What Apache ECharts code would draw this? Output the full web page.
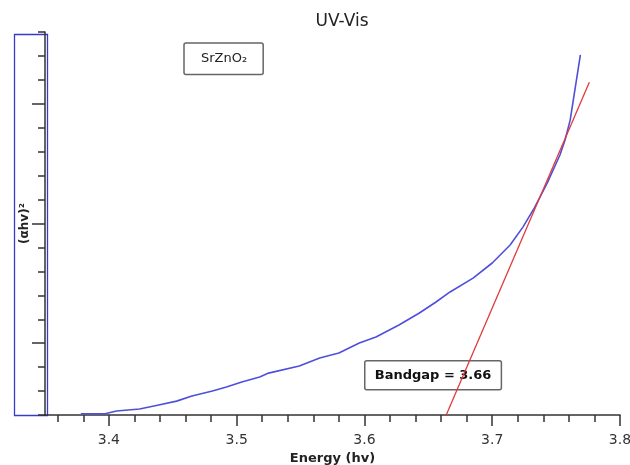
<!DOCTYPE html>
<html>
<head>
<meta charset="utf-8">
<script src="https://cdn.jsdelivr.net/npm/echarts@6/dist/echarts.min.js"></script>
<style>html,body{margin:0;padding:0;background:#fff}#c{width:630px;height:465px}</style>
</head>
<body>
<div id="c"></div>
<script>
// Data
const energy = [3.378, 3.397, 3.406, 3.424, 3.439, 3.453, 3.465, 3.481, 3.492, 3.504, 3.518, 3.525, 3.549, 3.565, 3.580, 3.596, 3.609, 3.627, 3.643, 3.656, 3.667, 3.685, 3.700, 3.714, 3.724, 3.733, 3.743, 3.753, 3.757, 3.761, 3.769];
const absorb = [0.05, 0.05, 0.17, 0.25, 0.42, 0.58, 0.79, 1.00, 1.17, 1.38, 1.59, 1.75, 2.05, 2.38, 2.59, 3.01, 3.26, 3.76, 4.26, 4.72, 5.14, 5.72, 6.35, 7.10, 7.85, 8.65, 9.69, 10.86, 11.49, 12.32, 15.04];
const fitEnergy = [3.664, 3.776];
const fitValue = [0, 13.9];
const bandgap = 3.66;
const xMajorTicks = [3.4, 3.5, 3.6, 3.7, 3.8];
const xMinorTicks = [3.36, 3.38, 3.42, 3.44, 3.46, 3.48, 3.52, 3.54, 3.56, 3.58, 3.62, 3.64, 3.66, 3.68, 3.72, 3.74, 3.76, 3.78];
const yMajorTicks = [3, 8, 13];
const seriesName = 'SrZnO\u2082';

const FONT = 'DejaVu Sans';
const chart = echarts.init(document.getElementById('c'), null, {renderer: 'canvas'});
const grid = {left: 45, right: 10, top: 32, bottom: 50, outerBoundsMode: 'none', containLabel: false};
const baseX = {type: 'value', min: 3.35, max: 3.8, gridIndex: 0, position: 'bottom', offset: 0, splitLine: {show: false}};
const baseY = {type: 'value', min: 0, max: 16, interval: 1, gridIndex: 0, position: 'left', offset: 0, splitLine: {show: false}, axisLabel: {show: false}};
chart.setOption({
  animation: false,
  backgroundColor: '#fff',
  title: {text: 'UV-Vis', left: 337, top: 8, textAlign: 'center',
    textStyle: {fontFamily: FONT, fontSize: 17, fontWeight: 'normal', color: '#222'}},
  legend: {data: [seriesName], left: 184, top: 43, icon: 'none', itemWidth: 0, itemGap: 0,
    borderColor: '#666', borderWidth: 1.5, borderRadius: 2, padding: [9, 16, 9, 12],
    textStyle: {fontFamily: FONT, fontSize: 13, color: '#222'}},
  grid: grid,
  xAxis: [
    Object.assign({}, baseX, {
      name: 'Energy (hv)', nameLocation: 'middle', nameGap: 37,
      nameTextStyle: {fontFamily: FONT, fontSize: 13, fontWeight: 'bold', color: '#222'},
      axisLine: {show: true, lineStyle: {color: '#333', width: 1.5}},
      axisTick: {show: true, length: 11, customValues: xMajorTicks, lineStyle: {color: '#333', width: 1.5}},
      axisLabel: {customValues: xMajorTicks, margin: 18, fontFamily: FONT, fontSize: 14, color: '#333',
        formatter: v => v.toFixed(1)}
    }),
    Object.assign({}, baseX, {
      axisLine: {show: false},
      axisTick: {show: true, length: 7, customValues: xMinorTicks, lineStyle: {color: '#333', width: 1.5}},
      axisLabel: {show: false}
    })
  ],
  yAxis: [
    Object.assign({}, baseY, {
      name: '(\u03b1hv)\u00b2', nameLocation: 'middle', nameGap: 14,
      nameTextStyle: {fontFamily: FONT, fontSize: 12, fontWeight: 'bold', color: '#222'},
      axisLine: {show: true, lineStyle: {color: '#333', width: 1.5}},
      axisTick: {show: true, length: 7, lineStyle: {color: '#333', width: 1.5}}
    }),
    Object.assign({}, baseY, {
      axisLine: {show: false},
      axisTick: {show: true, length: 13, customValues: yMajorTicks, lineStyle: {color: '#333', width: 1.5}}
    })
  ],
  graphic: [
    {type: 'rect', left: 12, top: 32, z: 0, silent: true,
      shape: {width: 33, height: 381}, style: {fill: 'none', stroke: '#3a3ac8', lineWidth: 1.3}},
    {type: 'text', left: 364, top: 360, z: 0, silent: true,
      style: {text: 'Bandgap = ' + bandgap.toFixed(2), font: 'bold 13px "DejaVu Sans"', fill: '#111',
        padding: [8, 10, 8, 10], borderColor: '#666', borderWidth: 1.5, borderRadius: 2}}
  ],
  series: [
    {name: seriesName, type: 'line', xAxisIndex: 0, yAxisIndex: 0, showSymbol: false, symbol: 'none',
      data: energy.map((e, i) => [e, absorb[i]]),
      lineStyle: {color: '#4f4fdc', width: 1.6}, itemStyle: {color: '#4f4fdc'}, z: 3},
    {name: 'fit', type: 'line', xAxisIndex: 0, yAxisIndex: 0, showSymbol: false, symbol: 'none',
      data: fitEnergy.map((e, i) => [e, fitValue[i]]),
      lineStyle: {color: '#e03a3a', width: 1.3}, itemStyle: {color: '#e03a3a'}, z: 4}
  ]
});
</script>
</body>
</html>
